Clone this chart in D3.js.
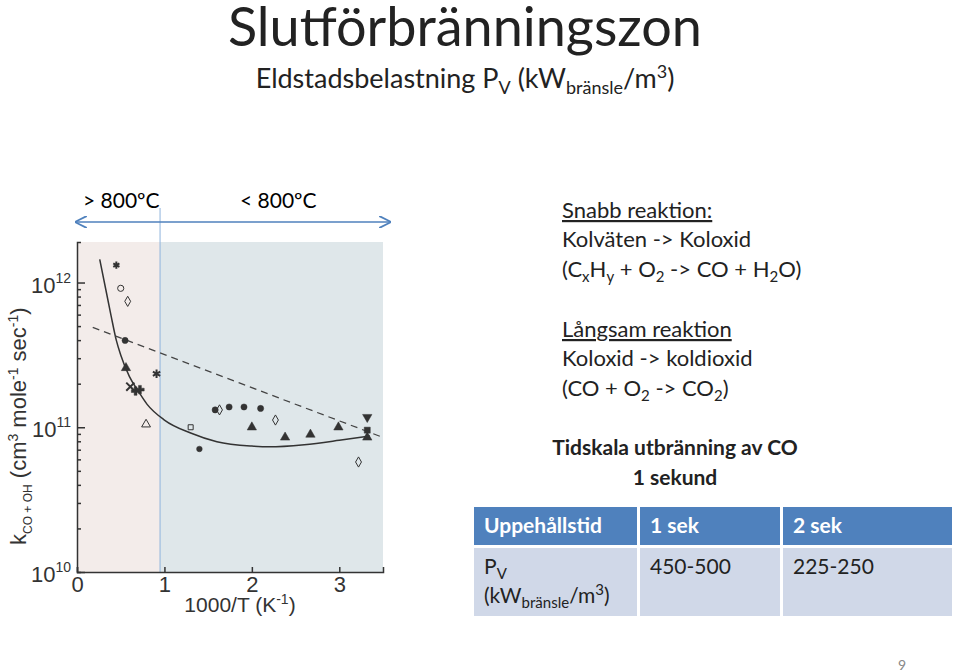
<!DOCTYPE html>
<html><head><meta charset="utf-8">
<script src="https://cdn.jsdelivr.net/npm/d3@7"></script>
<style>body{margin:0;background:#fff}svg{display:block}</style>
</head><body><svg id="c" width="960" height="672"></svg>
<script>
// data (x = 1000/T, y = log10 k)
const curveX = [0.26, 0.33, 0.39, 0.45, 0.5, 0.6, 0.7, 0.8, 1.0, 1.3, 1.6, 2.0, 2.2, 2.6, 3.0, 3.35];
const curveY = [12.16, 11.95, 11.77, 11.6, 11.5, 11.35, 11.25, 11.16, 11.05, 10.96, 10.9, 10.87, 10.865, 10.88, 10.91, 10.94];
const dashX = [0.18, 3.5];
const dashY = [11.69, 10.93];
const pts = [
  ["xstar", 0.45, 12.12], ["ocircle", 0.50, 11.96], ["odiamond", 0.58, 11.87],
  ["fcircle", 0.55, 11.60], ["ftri", 0.56, 11.41], ["cross", 0.61, 11.28],
  ["plus", 0.67, 11.25], ["plus", 0.72, 11.26], ["star", 0.91, 11.37],
  ["otri", 0.79, 11.02], ["osquare", 1.30, 11.0], ["xcircle", 1.40, 10.85],
  ["fcircle", 1.58, 11.12], ["fcircle", 1.74, 11.14], ["fcircle", 1.91, 11.14], ["fcircle", 2.10, 11.13],
  ["odiamond", 1.63, 11.12], ["odiamond", 2.27, 11.05], ["odiamond", 3.22, 10.76],
  ["ftri", 2.0, 11.0], ["ftri", 2.38, 10.93], ["ftri", 2.67, 10.95], ["ftri", 2.99, 11.0], ["ftri", 3.32, 10.93],
  ["dtri", 3.32, 11.07], ["fsquare", 3.32, 10.98]
];
const xTicks = [0, 1, 2, 3];
const yTicks = [10, 11, 12];
const tableHead = ["Uppehållstid", "1 sek", "2 sek"];
const tableRow = ["450-500", "225-250"];

const svg = d3.select("#c");
const x = d3.scaleLinear().domain([0, 3.5]).range([77, 383]);
const y = d3.scaleLinear().domain([10, 12.28]).range([572, 242]);

// background zones
svg.append("rect").attr("x", x(0)).attr("y", y(12.28)).attr("width", x(0.95) - x(0)).attr("height", y(10) - y(12.28)).attr("fill", "#f3ecea");
svg.append("rect").attr("x", x(0.95)).attr("y", y(12.28)).attr("width", x(3.5) - x(0.95)).attr("height", y(10) - y(12.28)).attr("fill", "#dfe7ea");
svg.append("line").attr("x1", x(0.95)).attr("x2", x(0.95)).attr("y1", 208).attr("y2", y(10)).attr("stroke", "#8fb3dc").attr("stroke-width", 1);

// arrow
const defs = svg.append("defs");
defs.append("marker").attr("id", "ah").attr("viewBox", "0 0 10 10").attr("refX", 9).attr("refY", 5)
  .attr("markerWidth", 8).attr("markerHeight", 8).attr("orient", "auto-start-reverse")
  .append("path").attr("d", "M0,0L10,5L0,10").attr("fill", "none").attr("stroke", "#4f81bd").attr("stroke-width", 1.5);
svg.append("line").attr("x1", 76).attr("x2", 390).attr("y1", 222).attr("y2", 222).attr("stroke", "#4f81bd").attr("stroke-width", 1.5)
  .attr("marker-start", "url(#ah)").attr("marker-end", "url(#ah)");
svg.append("text").attr("x", 83).attr("y", 208).attr("font-family", "Lato").attr("font-size", 21).text("> 800ºC");
svg.append("text").attr("x", 240).attr("y", 208).attr("font-family", "Lato").attr("font-size", 21).text("< 800ºC");

// axes
const xa = svg.append("g").attr("transform", `translate(0,${y(10)})`)
  .call(d3.axisBottom(x).tickValues(xTicks).tickSize(-5).tickPadding(4).tickFormat(d3.format("d")));
xa.selectAll("text").attr("font-family", "Liberation Sans").attr("font-size", 22).attr("fill", "#333");
const minor = [];
for (let d = 10; d < 12.28; d++) for (let m = 1; m < 10; m++) { const v = d + Math.log10(m); if (v <= 12.28) minor.push(v); }
const ya = svg.append("g").attr("transform", `translate(${x(0)},0)`)
  .call(d3.axisLeft(y).tickValues(minor).tickSize(-4).tickFormat(""));
ya.selectAll(".tick line").filter(d => yTicks.includes(d)).attr("x2", 8);
[xa, ya].forEach(a => a.selectAll("path,line").attr("stroke", "#333").attr("stroke-width", 1.5));
yTicks.forEach(t => {
  const tx = svg.append("text").attr("x", x(0) - 6).attr("y", y(t) + 10).attr("text-anchor", "end")
    .attr("font-family", "Liberation Sans").attr("font-size", 22).attr("fill", "#333");
  tx.append("tspan").text("10");
  tx.append("tspan").attr("dy", -10).attr("font-size", 14).text(t);
});
svg.append("text").attr("x", 240).attr("y", 612).attr("text-anchor", "middle").attr("font-family", "Liberation Sans")
  .attr("font-size", 21).attr("fill", "#333").html('1000/T (K<tspan dy="-8" font-size="14">-1</tspan><tspan dy="8">)</tspan>');
svg.append("text").attr("transform", "translate(26,545) rotate(-90)").attr("font-family", "Liberation Sans")
  .attr("font-size", 22).attr("fill", "#333")
  .html('k<tspan dy="6" font-size="12">CO + OH</tspan><tspan dy="-6"> (cm</tspan><tspan dy="-8" font-size="14">3</tspan><tspan dy="8"> mole</tspan><tspan dy="-8" font-size="14">-1</tspan><tspan dy="8"> sec</tspan><tspan dy="-8" font-size="14">-1</tspan><tspan dy="8">)</tspan>');

// lines
const line = d3.line().x(d => x(d[0])).y(d => y(d[1])).curve(d3.curveMonotoneX);
svg.append("path").attr("d", line(curveX.map((v, i) => [v, curveY[i]]))).attr("fill", "none").attr("stroke", "#333").attr("stroke-width", 1.5);
svg.append("path").attr("d", d3.line().x(d => x(d[0])).y(d => y(d[1]))(dashX.map((v, i) => [v, dashY[i]])))
  .attr("fill", "none").attr("stroke", "#444").attr("stroke-width", 1.2).attr("stroke-dasharray", "7,5");

// markers
const sym = {
  ocircle: [d3.symbolCircle, 30, false], fcircle: [d3.symbolCircle, 30, true], xcircle: [d3.symbolCircle, 25, true],
  odiamond: [d3.symbolDiamond, 30, false], ftri: [d3.symbolTriangle, 38, true], otri: [d3.symbolTriangle, 34, false],
  dtri: [d3.symbolTriangle, 38, true], osquare: [d3.symbolSquare, 25, false], fsquare: [d3.symbolSquare, 36, true],
  cross: [d3.symbolX, 45, false], plus: [d3.symbolCross, 40, true], star: [d3.symbolAsterisk, 50, false], xstar: [d3.symbolAsterisk, 35, false]
};
pts.forEach(p => {
  const s = sym[p[0]];
  const g = svg.append("path").attr("d", d3.symbol().type(s[0]).size(s[1])())
    .attr("transform", `translate(${x(p[1])},${y(p[2])})${p[0] === "dtri" ? " rotate(180)" : ""}`)
    .attr("fill", s[2] ? "#333" : "none").attr("stroke", "#333").attr("stroke-width", s[2] ? 0.5 : 1);
  if (p[0] === "cross" || p[0] === "star" || p[0] === "xstar") g.attr("stroke-width", 2);
});

// titles
const T = (xx, yy, sz, html, anchor, weight, fill) => svg.append("text").attr("x", xx).attr("y", yy)
  .attr("font-family", "Lato").attr("font-size", sz).attr("text-anchor", anchor || "start")
  .attr("font-weight", weight || "normal").attr("fill", fill || "#222").html(html);
T(465, 46, 54, "Slutförbränningszon", "middle");
T(465, 88, 27, 'Eldstadsbelastning P<tspan dy="6" font-size="18">V</tspan><tspan dy="-6"> (kW</tspan><tspan dy="6" font-size="18">bränsle</tspan><tspan dy="-6">/m</tspan><tspan dy="-10" font-size="18">3</tspan><tspan dy="10">)</tspan>', "middle");
T(562, 218, 22, "Snabb reaktion:").attr("text-decoration", "underline");
T(562, 247, 22, "Kolväten -> Koloxid");
T(562, 277, 22, '(C<tspan dy="5" font-size="15">x</tspan><tspan dy="-5">H</tspan><tspan dy="5" font-size="15">y</tspan><tspan dy="-5"> + O</tspan><tspan dy="5" font-size="15">2</tspan><tspan dy="-5"> -> CO + H</tspan><tspan dy="5" font-size="15">2</tspan><tspan dy="-5">O)</tspan>');
T(562, 337, 22, "Långsam reaktion").attr("text-decoration", "underline");
T(562, 366, 22, "Koloxid -> koldioxid");
T(562, 396, 22, '(CO + O<tspan dy="5" font-size="15">2</tspan><tspan dy="-5"> -> CO</tspan><tspan dy="5" font-size="15">2</tspan><tspan dy="-5">)</tspan>');
T(675, 455, 21, "Tidskala utbränning av CO", "middle", "bold");
T(675, 485, 21, "1 sekund", "middle", "bold");

// table
const colX = [474, 640, 783, 955];
tableHead.forEach((h, i) => {
  svg.append("rect").attr("x", colX[i]).attr("y", 507).attr("width", colX[i + 1] - colX[i] - 3).attr("height", 38).attr("fill", "#4f81bd");
  svg.append("rect").attr("x", colX[i]).attr("y", 548).attr("width", colX[i + 1] - colX[i] - 3).attr("height", 68).attr("fill", "#d0d8e8");
  T(colX[i] + 10, 533, 21, h, "start", "bold", "#fff");
});
T(484, 574, 21, 'P<tspan dy="5" font-size="15">V</tspan>');
T(484, 603, 21, '(kW<tspan dy="5" font-size="15">bränsle</tspan><tspan dy="-5">/m</tspan><tspan dy="-8" font-size="15">3</tspan><tspan dy="8">)</tspan>');
tableRow.forEach((v, i) => T(colX[i + 1] + 10, 574, 21, v));
T(906, 670, 14, "9", "end", "normal", "#888");
</script></body></html>
